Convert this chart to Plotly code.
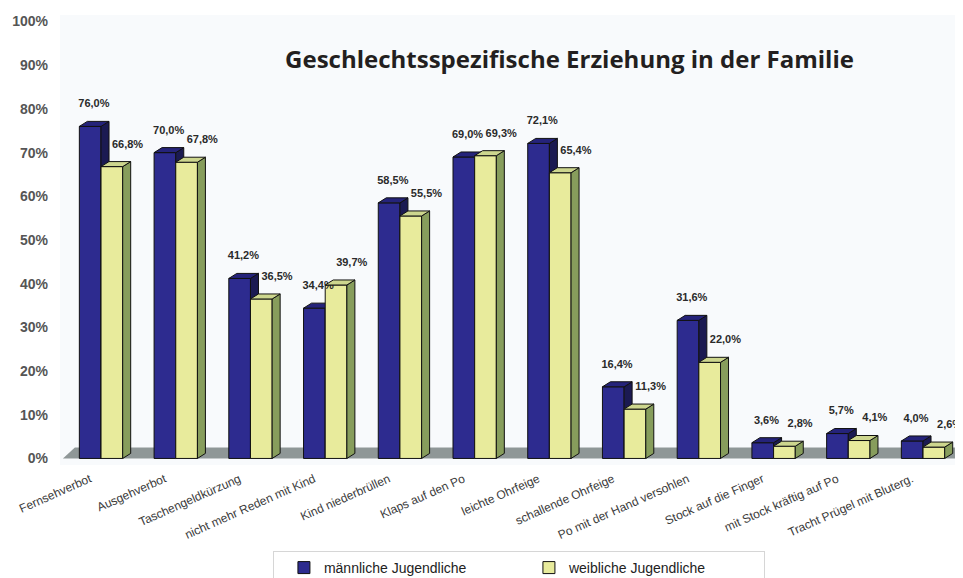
import plotly.graph_objects as go

# Daten
kategorien = ['Fernsehverbot', 'Ausgehverbot', 'Taschengeldkürzung', 'nicht mehr Reden mit Kind',
              'Kind niederbrüllen', 'Klaps auf den Po', 'leichte Ohrfeige', 'schallende Ohrfeige',
              'Po mit der Hand versohlen', 'Stock auf die Finger', 'mit Stock kräftig auf Po',
              'Tracht Prügel mit Bluterg.']
maennlich = [76.0, 70.0, 41.2, 34.4, 58.5, 69.0, 72.1, 16.4, 31.6, 3.6, 5.7, 4.0]
weiblich = [66.8, 67.8, 36.5, 39.7, 55.5, 69.3, 65.4, 11.3, 22.0, 2.8, 4.1, 2.6]
y_ticks = list(range(0, 101, 10))

# Geometrie der 3D-Optik
W = 0.29      # Breite der Vorderseite
DX = 0.107    # Tiefe in x
DY = 1.15     # Tiefe in y

def fmt(v):
    return f"{v:.1f}".replace('.', ',') + '%'

def faces(xc, vals):
    sx, sy, tx, ty = [], [], [], []
    for x, v in zip(xc, vals):
        l, r = x - W / 2, x + W / 2
        sx += [r, r + DX, r + DX, r, r, None]
        sy += [0, DY, v + DY, v, 0, None]
        tx += [l, r, r + DX, l + DX, l, None]
        ty += [v, v, v + DY, v + DY, v, None]
    return sx, sy, tx, ty

idx = list(range(len(kategorien)))
x_m = [i - W / 2 for i in idx]
x_w = [i + W / 2 for i in idx]

fig = go.Figure()

def add_series(xc, vals, name, front, side, top, xa, ya, dxlab):
    fig.add_trace(go.Bar(x=xc, y=vals, width=W, name=name, xaxis=xa, yaxis=ya,
                         marker=dict(color=front, line=dict(color='#111111', width=1))))
    sx, sy, tx, ty = faces(xc, vals)
    fig.add_trace(go.Scatter(x=sx, y=sy, mode='lines', fill='toself', fillcolor=side,
                             line=dict(color='#111111', width=1), showlegend=False,
                             hoverinfo='skip', xaxis=xa, yaxis=ya))
    fig.add_trace(go.Scatter(x=tx, y=ty, mode='lines', fill='toself', fillcolor=top,
                             line=dict(color='#111111', width=1), showlegend=False,
                             hoverinfo='skip', xaxis=xa, yaxis=ya))
    fig.add_trace(go.Scatter(x=[x + dxlab for x in xc], y=[v + 5.0 for v in vals],
                             mode='text', text=[fmt(v) for v in vals], cliponaxis=False,
                             textfont=dict(family='Liberation Sans', size=11, color='#2a2a2a', weight='bold'),
                             showlegend=False, hoverinfo='skip', xaxis='x2', yaxis='y2'))

add_series(x_m, maennlich, 'männliche Jugendliche', '#2d2b8f', '#1b1a52', '#25237a', 'x', 'y', 0.05)
add_series(x_w, weiblich, 'weibliche Jugendliche', '#e8eb9c', '#879d5c', '#cdd68e', 'x2', 'y2', 0.21)

x_range = [-0.549, 11.508]
y_range = [-1.5, 101.5]

# Boden
fig.add_shape(type='path', xref='x', yref='y', layer='below',
              path='M -0.51,0 L -0.35,2.5 L 11.47,2.5 L 11.47,0 Z',
              fillcolor='#8f9797', line=dict(width=0))

fig.update_layout(
    width=955, height=570,
    margin=dict(l=52, r=2, t=7, b=113),
    paper_bgcolor='#ffffff',
    plot_bgcolor='#f8fafc',
    barmode='overlay',
    title=dict(text='<b>Geschlechtsspezifische Erziehung in der Familie</b>',
               x=0.588, xanchor='center', y=0.909, yanchor='middle',
               font=dict(family='Open Sans', size=24, color='#231f20')),
    xaxis=dict(range=x_range, tickvals=[i - 0.15 for i in idx], ticktext=kategorien, tickangle=-24,
               showgrid=False, zeroline=False, showline=False, ticks='',
               ticklabelstandoff=4,
               tickfont=dict(family='Liberation Sans', size=12, color='#3a3a3a')),
    yaxis=dict(range=y_range, tickvals=y_ticks, ticktext=[f'{t}%' for t in y_ticks],
               showgrid=False, zeroline=False, showline=False, ticks='',
               ticklabelstandoff=11,
               tickfont=dict(family='Liberation Sans', size=14, color='#555555', weight='bold')),
    xaxis2=dict(range=x_range, overlaying='x', visible=False),
    yaxis2=dict(range=y_range, overlaying='y', visible=False),
    legend=dict(orientation='h', xref='container', x=0.535, xanchor='center',
                yref='container', y=0.0474, yanchor='top',
                bgcolor='#ffffff', bordercolor='#d6d6d6', borderwidth=1,
                indentation=10, entrywidth=190,
                font=dict(family='Liberation Sans', size=14, color='#222222')),
    showlegend=True,
)

fig.write_html('out.html')
